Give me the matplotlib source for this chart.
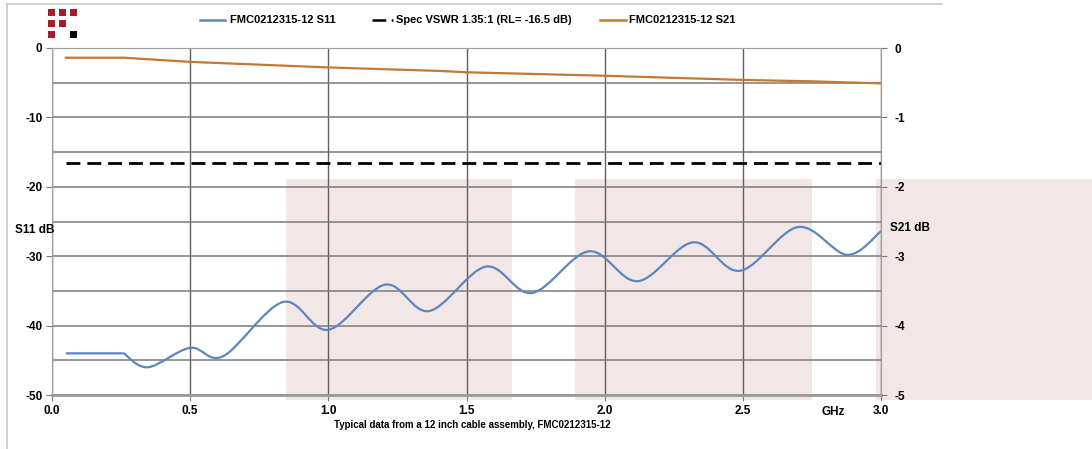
import numpy as np
import matplotlib.pyplot as plt
from matplotlib.path import Path
from matplotlib.patches import PathPatch, Rectangle
from matplotlib.lines import Line2D

plt.rcParams['font.family'] = ['Liberation Sans', 'DejaVu Sans']
plt.rcParams['font.weight'] = 'bold'
plt.rcParams['axes.unicode_minus'] = False

# === data ===
s11_freq = [0.05, 0.26, 0.347, 0.50, 0.62, 0.836, 1.00, 1.205, 1.365, 1.57,
            1.737, 1.943, 2.12, 2.32, 2.49, 2.70, 2.877, 3.0]
s11_db = [-44.0, -44.0, -46.0, -43.2, -44.4, -36.6, -40.6, -34.1, -37.9, -31.5,
          -35.3, -29.3, -33.6, -28.0, -32.1, -25.8, -29.8, -26.4]

s21_freq = [0.05, 0.26, 0.5, 1.0, 1.4, 1.5, 2.0, 2.5, 2.75, 3.0]
s21_db = [-0.14, -0.14, -0.20, -0.28, -0.33, -0.35, -0.40, -0.46, -0.48, -0.51]

spec_freq = [0.05, 3.0]
spec_db = [-16.5, -16.5]

x_ticks = [0.0, 0.5, 1.0, 1.5, 2.0, 2.5, 3.0]
left_ticks = [0, -10, -20, -30, -40, -50]
right_ticks = [0, -1, -2, -3, -4, -5]

legend_labels = ["FMC0212315-12 S11", "Spec VSWR 1.35:1 (RL= -16.5 dB)", "FMC0212315-12 S21"]
caption = "Typical data from a 12 inch cable assembly, FMC0212315-12"

blue = '#5b87c0'
orange = '#c27a30'
pink = '#f3e6e6'
gridc = '#7a7a7a'

W, H = 1092, 449
fig = plt.figure(figsize=(W / 100, H / 100), dpi=100)
fig.patch.set_facecolor('white')


def px(x, y):
    # pixel (from top-left) -> figure fraction
    return x / W, 1 - y / H


def smooth_path(xs, ys, corner=1):
    # straight run up to `corner`, then Catmull-Rom style bezier like Excel's smoothed line
    pts = np.column_stack([xs, ys])
    verts = [pts[0]]
    codes = [Path.MOVETO]
    for i in range(1, corner + 1):
        verts.append(pts[i])
        codes.append(Path.LINETO)
    p = pts[corner:]
    p = np.vstack([p[0], p, p[-1]])
    for i in range(1, len(p) - 2):
        c1 = p[i] + (p[i + 1] - p[i - 1]) / 6
        c2 = p[i + 1] - (p[i + 2] - p[i]) / 6
        verts += [c1, c2, p[i + 1]]
        codes += [Path.CURVE4] * 3
    return Path(verts, codes)


# pink background blocks (behind the axes)
for x0, x1 in [(286, 512), (575, 812), (876, 1092)]:
    fx0, fy1 = px(x0, 179)
    fx1, fy0 = px(x1, 400)
    fig.add_artist(Rectangle((fx0, fy0), fx1 - fx0, fy1 - fy0, transform=fig.transFigure,
                             facecolor=pink, edgecolor='none', zorder=-5))

# frame lines
fig.add_artist(Line2D([7 / W, 942 / W], [1 - 4 / H, 1 - 4 / H], color='#c8c8c8', lw=1.2))
fig.add_artist(Line2D([7 / W, 7 / W], [0, 1 - 4 / H], color='#c8c8c8', lw=1.2))

# logo squares
red = '#a51c2a'
for cx, cy, c in [(48, 9, red), (59, 9, red), (70, 9, red), (48, 20, red), (59, 20, red),
                  (48, 31, red), (70, 31, 'black')]:
    fx, fy = px(cx, cy + 7)
    fig.add_artist(Rectangle((fx, fy), 7 / W, 7 / H, transform=fig.transFigure,
                             facecolor=c, edgecolor='none'))

ax = fig.add_axes([52 / W, 54 / H, 829 / W, 347 / H])
ax.set_facecolor('none')
ax.set_xlim(0, 3.0)
ax.set_ylim(-50, 0)

ax.set_xticks(x_ticks)
ax.set_xticklabels([f"{t:.1f}" for t in x_ticks])
ax.set_yticks(left_ticks)
ax.set_yticks(np.arange(-45, 0, 10), minor=True)
ax.grid(True, which='both', axis='y', color=gridc, lw=1.1)
ax.grid(True, which='major', axis='x', color='#606060', lw=1.0)
ax.tick_params(axis='both', which='major', labelsize=8.5, length=4, color=gridc, pad=3)
ax.tick_params(axis='y', which='minor', length=0)
for s in ['top', 'left', 'right']:
    ax.spines[s].set_color('#a0a0a0')
ax.spines['bottom'].set_color('#9a9a9a')
ax.spines['bottom'].set_linewidth(2)
ax.set_axisbelow(True)

ax.add_patch(PathPatch(smooth_path(s11_freq, s11_db), facecolor='none',
                       edgecolor=blue, lw=1.6, zorder=4))
ax.plot(spec_freq, spec_db, color='black', lw=2, dashes=(5, 2.5), zorder=3)

ax2 = ax.twinx()
ax2.set_ylim(-5, 0)
ax2.set_yticks(right_ticks)
ax2.tick_params(axis='y', labelsize=8.5, length=4, color=gridc, pad=6)
ax2.spines['right'].set_color('#a0a0a0')
for s in ['top', 'left', 'bottom']:
    ax2.spines[s].set_visible(False)
ax2.plot(s21_freq, s21_db, color=orange, lw=1.6, zorder=3)

# axis titles
fig.text(*px(35, 230), "S11 dB", ha='center', va='center', fontsize=8.5)
fig.text(*px(890, 228), "S21 dB", ha='left', va='center', fontsize=8.5)
fig.text(*px(833, 412), "GHz", ha='center', va='center', fontsize=8.5)
fig.text(*px(472, 425), caption, ha='center', va='center', fontsize=7)

# legend drawn by hand along the top
leg = [(200, 225, blue, None, legend_labels[0], 230),
       (372, 393, 'black', (5.5, 2.2), legend_labels[1], 396),
       (600, 626, orange, None, legend_labels[2], 629)]
for x0, x1, c, d, lab, tx in leg:
    ln = Line2D([x0 / W, x1 / W], [1 - 20 / H, 1 - 20 / H], color=c, lw=1.8)
    if d:
        ln.set_dashes(d)
    fig.add_artist(ln)
    fig.text(*px(tx, 20), lab, ha='left', va='center', fontsize=8)

fig.savefig("out.png", dpi=100)
